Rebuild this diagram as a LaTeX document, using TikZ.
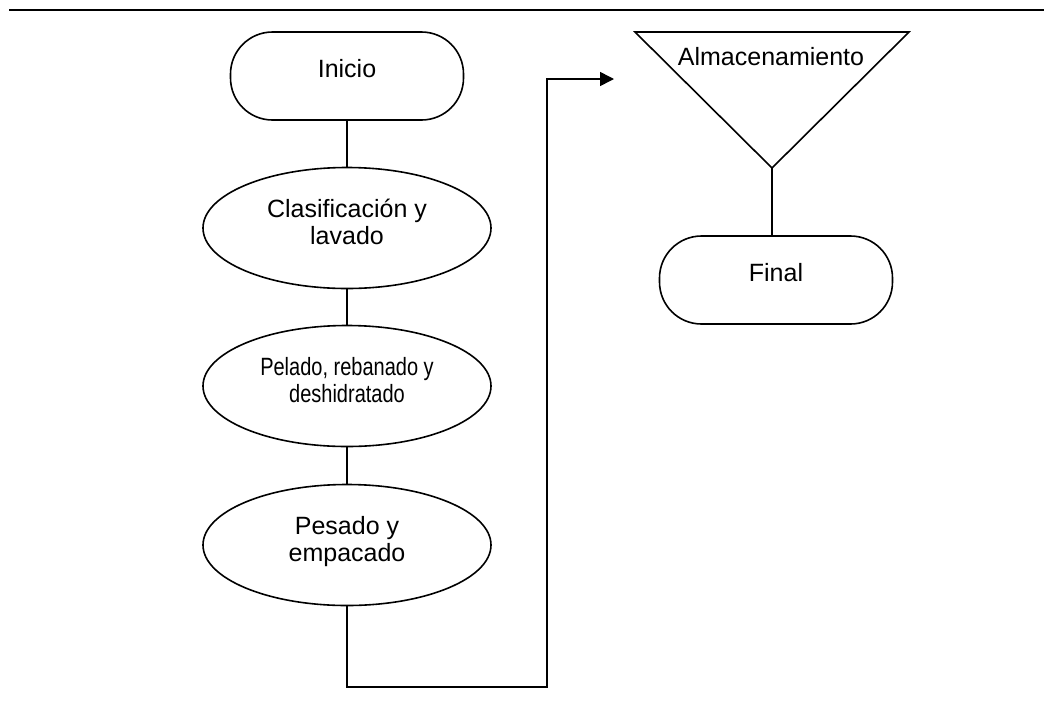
\documentclass[tikz,border=0pt]{standalone}
\usepackage{fontspec}
\setmainfont{Liberation Sans}
\newfontfamily\narrowsans[FakeStretch=0.8]{Liberation Sans}
\usetikzlibrary{arrows.meta,shapes.geometric}

\begin{document}
\begin{tikzpicture}[x=1pt,y=-1pt,
    linea/.style={line width=1.6pt},
    texto/.style={font=\fontsize{25}{26.7}\selectfont},
    paso/.style={ellipse, draw, linea, texto, minimum width=288pt, minimum height=121pt, inner sep=0pt, align=center, text height=38pt, text depth=5pt},
    limite/.style={rectangle, rounded corners=42pt, draw, linea, texto, minimum width=233pt, minimum height=88pt, text height=18pt, text depth=16pt},
]

\useasboundingbox (0,0) rectangle (1044,721);
\draw[linea] (9,10) -- (1044,10);

% left column
\node[limite] (inicio) at (347,76) {Inicio};
\node[paso] (clas) at (347,228) {Clasificación y\\lavado};
\node[paso, font=\narrowsans\fontsize{25}{26.7}\selectfont] (pel) at (347,386) {Pelado, rebanado y\\deshidratado};
\node[paso] (pes) at (347,545) {Pesado y\\empacado};

% right column
\coordinate (alm-tl) at (635,32);
\coordinate (alm-tr) at (909,32);
\coordinate (alm-v) at (772,168);
\draw[linea] (alm-tl) -- (alm-tr) -- (alm-v) -- cycle;
\node[texto] (alm) at (771,57) {Almacenamiento};
\node[limite] (final) at (776,280) {Final};

\draw[linea] (inicio) -- (clas);
\draw[linea] (clas) -- (pel);
\draw[linea] (pel) -- (pes);
\coordinate (flecha) at (614,79);
\draw[linea, -{Triangle[length=14pt,width=14pt]}] (pes.south) |- (547,687) |- (flecha);
\draw[linea] (alm-v) -- (alm-v |- final.north);

\end{tikzpicture}
\end{document}
